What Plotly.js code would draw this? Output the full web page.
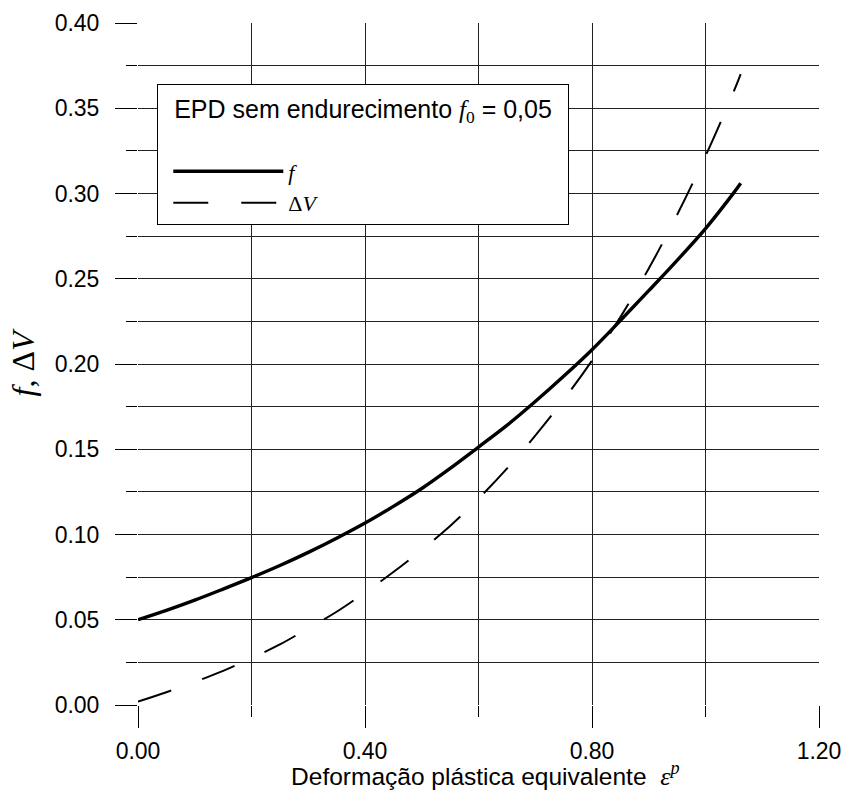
<!DOCTYPE html>
<html>
<head>
<meta charset="utf-8">
<script src="https://cdn.plot.ly/plotly-3.0.1.min.js"></script>
<style>html,body{margin:0;padding:0;background:#fff;}#chart{width:843px;height:791px;}</style>
</head>
<body>
<div id="chart"></div>
<script>
// Equivalent plastic strain (x) for the void fraction curve f
const strainF = [0, 0.05, 0.10, 0.15, 0.20, 0.25, 0.30, 0.35, 0.40, 0.45, 0.50, 0.55, 0.60, 0.65, 0.70, 0.75, 0.80, 0.85, 0.90, 0.95, 1.00, 1.05, 1.062];
const fValues = [0.050, 0.0555, 0.0615, 0.068, 0.0747, 0.0818, 0.0895, 0.0978, 0.1067, 0.1165, 0.127, 0.1388, 0.1513, 0.164, 0.178, 0.1928, 0.2084, 0.2255, 0.243, 0.2608, 0.2794, 0.3005, 0.306];
// Equivalent plastic strain for the volume change curve ΔV
const strainDV = [0, 0.05, 0.10, 0.15, 0.20, 0.25, 0.30, 0.35, 0.40, 0.45, 0.50, 0.55, 0.60, 0.65, 0.70, 0.75, 0.80, 0.85, 0.90, 0.95, 1.00, 1.05, 1.062];
const dvValues = [0.002, 0.0075, 0.0135, 0.020, 0.0275, 0.0355, 0.045, 0.0547, 0.066, 0.078, 0.091, 0.105, 0.121, 0.1386, 0.158, 0.179, 0.202, 0.2275, 0.256, 0.2875, 0.322, 0.360, 0.370];
const xTickVals = [0, 0.4, 0.8, 1.2];
const xTickText = ['0.00', '0.40', '0.80', '1.20'];
const yTickVals = [0, 0.05, 0.10, 0.15, 0.20, 0.25, 0.30, 0.35, 0.40];
const yTickText = ['0.00', '0.05', '0.10', '0.15', '0.20', '0.25', '0.30', '0.35', '0.40'];
const seriesNames = ['<i>f</i>', 'Δ<i>V</i>'];

const SANS = 'Arial, "Liberation Sans", sans-serif';
const SERIF = '"Liberation Serif", "Times New Roman", serif';

const traces = [
  {x: strainF, y: fValues, name: seriesNames[0], type: 'scatter', mode: 'lines',
   line: {color: '#000', width: 3.4, shape: 'spline'}},
  {x: strainDV, y: dvValues, name: seriesNames[1], type: 'scatter', mode: 'lines',
   line: {color: '#000', width: 2, dash: '35px,33px', shape: 'spline'}}
];

const layout = {
  width: 843, height: 791,
  margin: {l: 138, r: 24, t: 23, b: 86, pad: 0},
  paper_bgcolor: '#fff', plot_bgcolor: '#fff',
  font: {family: SANS, size: 23, color: '#000'},
  showlegend: true,
  legend: {
    x: 0.0283, y: 0.910, xanchor: 'left', yanchor: 'top',
    bgcolor: '#fff', bordercolor: '#000', borderwidth: 1,
    itemwidth: 110, indentation: 10,
    font: {family: SERIF, size: 22, color: '#000'},
    title: {text: '&nbsp;&nbsp;EPD sem endurecimento <span style="font-family:Liberation Serif"><i>f</i><sub>0</sub></span> = 0,05&nbsp;&nbsp;<br>&nbsp;', side: 'top', font: {family: SANS, size: 25, color: '#000'}}
  },
  xaxis: {
    range: [0, 1.2], tickmode: 'array', tickvals: xTickVals, ticktext: xTickText,
    ticks: 'outside', ticklen: 22, tickwidth: 1, tickcolor: '#000',
    showgrid: true, gridcolor: '#222', gridwidth: 1,
    zeroline: false, showline: false,
    minor: {dtick: 0.2, ticks: 'outside', ticklen: 11, tickcolor: '#000', showgrid: true, gridcolor: '#222', gridwidth: 1},
    tickfont: {family: SANS, size: 23, color: '#000'},
    ticklabelstandoff: 3,
    title: {text: '&nbsp;&nbsp;Deformação plástica equivalente &nbsp;<span style="font-family:Liberation Serif;font-size:26px"><i>ε</i><sup><i>p</i></sup></span>', font: {family: SANS, size: 24.5, color: '#000'}, standoff: 5}
  },
  yaxis: {
    range: [0, 0.4], tickmode: 'array', tickvals: yTickVals, ticktext: yTickText,
    ticks: 'outside', ticklen: 22, tickwidth: 1, tickcolor: '#000',
    showgrid: true, gridcolor: '#222', gridwidth: 1,
    zeroline: false, showline: false,
    minor: {dtick: 0.025, ticks: 'outside', ticklen: 11, tickcolor: '#000', showgrid: true, gridcolor: '#222', gridwidth: 1},
    tickfont: {family: SANS, size: 23, color: '#000'},
    ticklabelstandoff: 11,
    title: {text: '<i>f</i>, Δ<i>V</i>', font: {family: SERIF, size: 32, color: '#000'}, standoff: 10}
  }
};

Plotly.newPlot('chart', traces, layout, {displayModeBar: false, staticPlot: true});
</script>
</body>
</html>
